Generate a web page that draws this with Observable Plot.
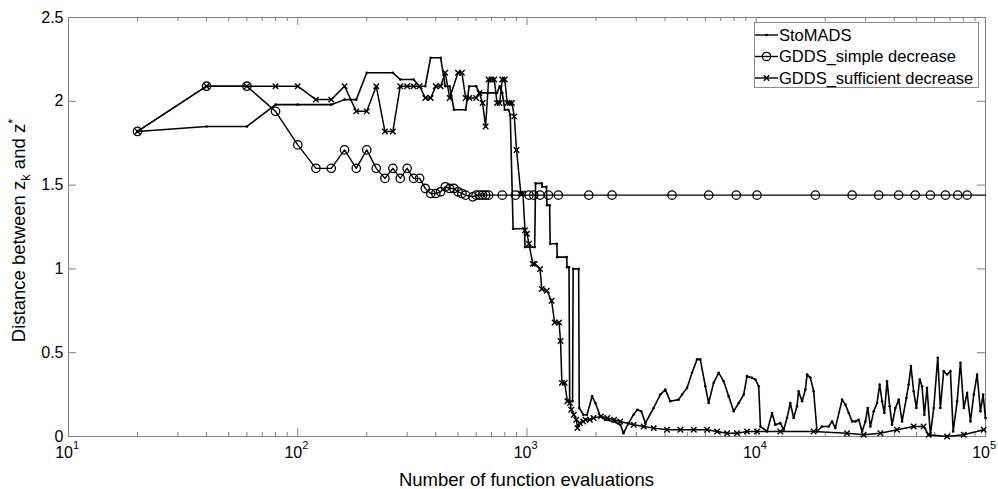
<!DOCTYPE html>
<html><head><meta charset="utf-8">
<script src="https://cdn.jsdelivr.net/npm/d3@7"></script>
<script src="https://cdn.jsdelivr.net/npm/@observablehq/plot@0.6"></script>
<style>
html,body{margin:0;padding:0;background:#fff;}
#chart{width:998px;height:489px;}
</style></head><body><div id="chart"></div>
<script>
const seriesNames = ["StoMADS", "GDDS_simple decrease", "GDDS_sufficient decrease"];
const xLabel = "Number of function evaluations";
const xMajorTicks = [10, 100, 1000, 10000, 100000];
const xExponents = ["1", "2", "3", "4", "5"];
const xMinorTicks = [20,30,40,50,60,70,80,90,200,300,400,500,600,700,800,900,2000,3000,4000,5000,6000,7000,8000,9000,20000,30000,40000,50000,60000,70000,80000,90000];
const yTicks = [0, 0.5, 1, 1.5, 2, 2.5];

const stoMADS = [[20,1.82],[40,1.85],[60,1.85],[80,1.98],[100,1.98],[140,1.98],[160,2.01],[180,2.01],[200,2.17],[260,2.17],[280,2.13],[320,2.13],[340,2.09],[360,2.09],[380,2.26],[420,2.26],[440,2.09],[460,2.09],[480,1.95],[540,1.95],[560,2.09],[600,2.09],[620,2.05],[740,2.05],[760,2.09],[780,2.05],[800,1.95],[830,1.95],[845,1.92],[870,1.24],[975,1.24],[980,1.13],[1080,1.13],[1090,1.51],[1160,1.51],[1165,1.49],[1215,1.49],[1222,1.38],[1255,1.38],[1262,1.15],[1350,1.15],[1355,1.07],[1490,1.07],[1495,1.01],[1525,1.01],[1535,0.21],[1580,0.21],[1590,1.00],[1680,1.00],[1690,0.17],[1762,0.13],[1828,0.13],[1923,0.24],[1988,0.20],[2089,0.12],[2197,0.10],[2388,0.09],[2553,0.07],[2637,0.02],[2773,0.08],[2916,0.13],[3027,0.16],[3152,0.15],[3283,0.08],[3567,0.17],[3815,0.25],[4012,0.28],[4219,0.21],[4584,0.22],[4744,0.25],[4989,0.29],[5246,0.38],[5517,0.46],[5701,0.46],[5995,0.30],[6199,0.20],[6519,0.32],[6855,0.38],[7209,0.33],[7581,0.24],[7972,0.15],[8384,0.20],[8816,0.25],[9116,0.36],[9587,0.35],[9912,0.34],[10250,0.30],[10430,0.06],[11150,0.03],[11720,0.14],[12120,0.07],[12740,0.08],[13170,0.04],[13620,0.11],[14080,0.20],[14560,0.11],[15060,0.18],[15300,0.27],[15840,0.21],[16380,0.28],[16660,0.37],[17230,0.35],[17800,0.27],[18410,0.03],[19360,0.06],[20700,0.06],[21410,0.09],[22140,0.05],[23680,0.22],[24490,0.19],[25320,0.14],[26190,0.09],[27080,0.09],[27990,0.10],[28950,0.03],[29940,0.09],[30640,0.17],[31470,0.06],[32540,0.15],[33650,0.20],[34540,0.31],[35390,0.21],[36220,0.14],[37210,0.33],[38200,0.18],[39130,0.07],[40460,0.17],[41840,0.22],[43270,0.09],[45170,0.23],[46220,0.31],[47300,0.42],[48600,0.27],[49950,0.17],[51650,0.34],[52870,0.30],[54100,0.13],[55600,0.29],[57500,0.01],[59460,0.17],[61900,0.47],[63560,0.17],[65700,0.39],[68000,0.37],[70300,0.39],[72270,0.03],[75220,0.21],[77750,0.44],[80400,0.17],[83140,0.26],[85970,0.09],[88890,0.25],[91920,0.37],[95050,0.15],[97620,0.25],[100000,0.11]];

const gddsSimple = [[20,1.82],[40,2.09],[60,2.09],[80,1.94],[100,1.74],[120,1.60],[140,1.60],[160,1.71],[180,1.60],[200,1.71],[220,1.60],[240,1.54],[260,1.60],[280,1.54],[300,1.60],[320,1.54],[340,1.54],[360,1.48],[380,1.45],[400,1.45],[420,1.46],[440,1.49],[460,1.48],[480,1.48],[500,1.46],[520,1.45],[540,1.44],[580,1.43],[600,1.44],[620,1.44],[640,1.44],[660,1.44],[680,1.44],[780,1.44],[890,1.44],[1020,1.44],[1070,1.44],[1140,1.44],[1240,1.44],[1370,1.44],[1860,1.44],[2350,1.44],[4290,1.44],[6200,1.44],[8180,1.44],[10080,1.44],[18120,1.44],[26200,1.44],[34200,1.44],[41800,1.44],[49400,1.44],[57500,1.44],[66900,1.44],[75700,1.44],[83200,1.44]];
const gddsSimpleEnd = [[100000,1.44]];

const gddsSufficient = [[20,1.82],[40,2.09],[60,2.09],[80,2.09],[100,2.09],[120,2.01],[140,2.01],[160,2.09],[180,1.94],[200,1.94],[220,2.09],[240,1.82],[260,1.82],[280,2.09],[300,2.09],[320,2.09],[340,2.09],[360,2.02],[380,2.02],[400,2.09],[420,2.09],[440,2.17],[460,2.02],[500,2.17],[520,2.17],[540,2.02],[560,2.02],[600,2.02],[620,2.05],[640,1.99],[660,1.85],[680,2.13],[700,2.13],[720,2.13],[740,1.99],[760,1.99],[780,2.13],[800,2.13],[820,1.99],[840,1.99],[860,1.99],[880,1.91],[900,1.71],[940,1.45],[960,1.45],[980,1.23],[1000,1.21],[1020,1.15],[1060,1.03],[1080,1.03],[1140,1.00],[1160,0.88],[1220,0.87],[1280,0.81],[1320,0.68],[1380,0.68],[1400,0.57],[1420,0.32],[1460,0.32],[1500,0.21],[1540,0.20],[1560,0.16],[1600,0.13],[1640,0.10],[1660,0.05],[1700,0.08],[1760,0.09],[1800,0.10],[1880,0.10],[1950,0.11],[2100,0.12],[2240,0.11],[2400,0.10],[2550,0.09],[2920,0.07],[3230,0.06],[3570,0.05],[4080,0.04],[4670,0.04],[5340,0.04],[6100,0.04],[6750,0.03],[7460,0.02],[8250,0.02],[9120,0.03],[10080,0.03],[12740,0.03],[17790,0.03],[24880,0.02],[29400,0.01],[34780,0.02],[41100,0.04],[48600,0.06],[53700,0.06],[56500,0.01],[68000,0.00],[80400,0.01],[98200,0.04]];

const W = 998, H = 489, mL = 68, mR = 13, mT = 17, mB = 53;
const pw = W - mL - mR, ph = H - mT - mB;
const axisGray = "#808080";
const font = "'Liberation Sans', Arial, Helvetica, sans-serif";
const timesR = 2.6;

const toObj = a => a.map(([x, y]) => ({x, y}));
const sto = toObj(stoMADS);
const simple = toObj(gddsSimple);
const simpleLine = toObj(gddsSimple.concat(gddsSimpleEnd));
const suff = toObj(gddsSufficient);

const chart = Plot.plot({
  width: W, height: H,
  marginLeft: mL, marginRight: mR, marginTop: mT, marginBottom: mB,
  style: {fontFamily: font, fontSize: "16px", color: "#000", background: "#fff"},
  x: {type: "log", domain: [10, 100000], axis: null},
  y: {domain: [0, 2.5]},
  marks: [
    Plot.frame({stroke: axisGray}),
    Plot.tickX(xMinorTicks, {x: d => d, stroke: axisGray, insetTop: ph - 4}),
    Plot.tickX(xMinorTicks, {x: d => d, stroke: axisGray, insetBottom: ph - 4}),
    Plot.tickX(xMajorTicks, {x: d => d, stroke: axisGray, insetTop: ph - 8}),
    Plot.tickX(xMajorTicks, {x: d => d, stroke: axisGray, insetBottom: ph - 8}),
    Plot.tickY(yTicks, {y: d => d, stroke: axisGray, insetRight: pw - 8}),
    Plot.tickY(yTicks, {y: d => d, stroke: axisGray, insetLeft: pw - 8}),
    Plot.axisY({ticks: yTicks, tickSize: 0, tickPadding: 5, tickFormat: d => String(d), label: null}),
    Plot.text(xMajorTicks, {x: d => d, text: () => "10", frameAnchor: "bottom", textAnchor: "end", dx: 4.5, dy: 21, fontSize: 16}),
    Plot.text(xMajorTicks, {x: d => d, text: (d, i) => xExponents[i], frameAnchor: "bottom", textAnchor: "start", dx: 4.5, dy: 12, fontSize: 11}),
    Plot.line(simpleLine, {x: "x", y: "y", stroke: "#000", strokeWidth: 1.4}),
    Plot.dot(simple, {x: "x", y: "y", r: 4.2, stroke: "#000", fill: "none", strokeWidth: 1.3}),
    Plot.line(suff, {x: "x", y: "y", stroke: "#000", strokeWidth: 1.5}),
    Plot.dot(suff, {x: "x", y: "y", r: timesR, symbol: "times", stroke: "#000", strokeWidth: 1.4}),
    Plot.line(sto, {x: "x", y: "y", stroke: "#000", strokeWidth: 1.6}),
    Plot.dot(sto, {x: "x", y: "y", r: 1.3, fill: "#000"})
  ]
});
document.getElementById("chart").append(chart);

const svg = d3.select(chart);
// x axis title
svg.append("text")
  .attr("x", mL + pw / 2).attr("y", 485.5)
  .attr("text-anchor", "middle").attr("font-family", font).attr("font-size", 18.5)
  .attr("fill", "#000").text(xLabel);
// y axis title with subscript / superscript
const yl = svg.append("text")
  .attr("transform", `translate(25,${mT + ph / 2 + 4}) rotate(-90)`)
  .attr("text-anchor", "middle").attr("font-family", font).attr("font-size", 18.5).attr("fill", "#000");
yl.append("tspan").text("Distance between z");
yl.append("tspan").attr("font-size", 13).attr("dy", 5).text("k");
yl.append("tspan").attr("dy", -5).text(" and z");
yl.append("tspan").attr("font-size", 13).attr("dy", -8).text("*");

// legend
const lg = svg.append("g").attr("font-family", font).attr("font-size", 16.5).attr("text-anchor", "start");
lg.append("rect").attr("x", 754.5).attr("y", 22.5).attr("width", 224).attr("height", 65)
  .attr("fill", "#fff").attr("stroke", "#8c8c8c");
const rowY = [35, 56.5, 78];
seriesNames.forEach((name, i) => {
  const y = rowY[i];
  lg.append("line").attr("x1", 755).attr("x2", 778).attr("y1", y).attr("y2", y)
    .attr("stroke", "#000").attr("stroke-width", 1.4);
  if (i === 0) lg.append("circle").attr("cx", 766.5).attr("cy", y).attr("r", 1.3).attr("fill", "#000");
  if (i === 1) lg.append("circle").attr("cx", 766.5).attr("cy", y).attr("r", 4.2).attr("fill", "none").attr("stroke", "#000").attr("stroke-width", 1.3);
  if (i === 2) lg.append("path").attr("transform", `translate(766.5,${y})`)
    .attr("d", d3.symbol(d3.symbolTimes, timesR * timesR * Math.PI)()).attr("fill", "none").attr("stroke", "#000").attr("stroke-width", 1.4);
  lg.append("text").attr("x", 779).attr("y", y).attr("dy", "0.35em").attr("text-anchor", "start").attr("fill", "#000").text(name);
});
</script>
</body></html>
